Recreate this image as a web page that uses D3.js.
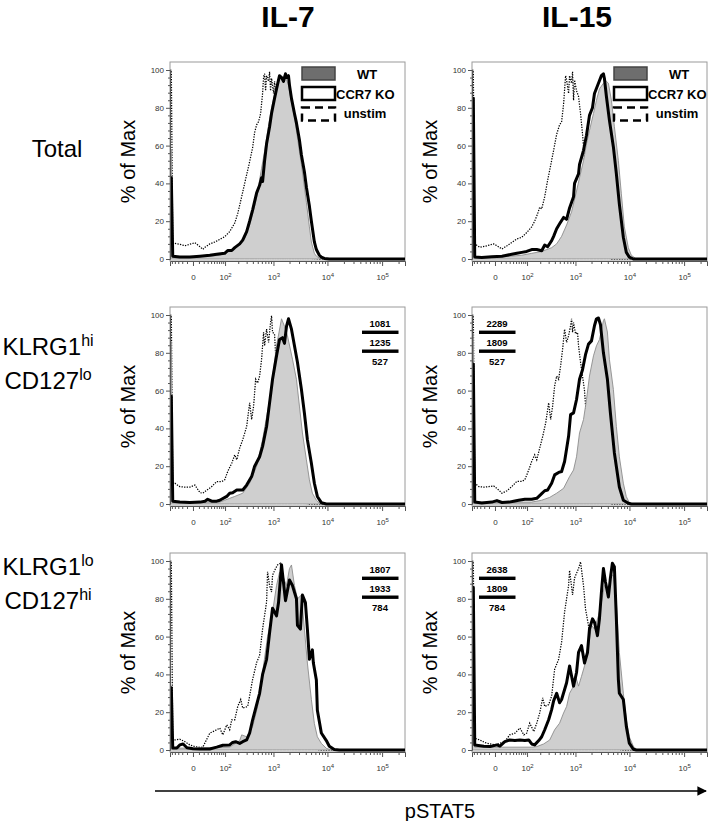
<!DOCTYPE html>
<html><head><meta charset="utf-8">
<script src="https://cdn.jsdelivr.net/npm/d3@7"></script>
<style>
body{margin:0;background:#fff;}
svg{display:block;font-family:Arial,"Liberation Sans",Helvetica,sans-serif;}
</style></head>
<body><svg id="chart" width="711" height="821"></svg>
<script>
// ---------------- DATA ----------------
const columnTitles = ["IL-7", "IL-15"];
const rowLabels = [
  [["Total", ""]],
  [["KLRG1", "hi"], ["CD127", "lo"]],
  [["KLRG1", "lo"], ["CD127", "hi"]]
];
const legendLabels = ["WT", "CCR7 KO", "unstim"];
const yLabel = "% of Max";
const xLabel = "pSTAT5";
const yMajorTicks = [0, 20, 40, 60, 80, 100];
const xMajorTicks = [0, 100, 1000, 10000, 100000];
const xTickExponents = ["", "2", "3", "4", "5"];
const xDomain = [-57, 262144];

// MFI values (WT / CCR7 KO / unstim)
const mfi_IL7_KLRG1hi = ["1081", "1235", "527"];
const mfi_IL15_KLRG1hi = ["2289", "1809", "527"];
const mfi_IL7_KLRG1lo = ["1807", "1933", "784"];
const mfi_IL15_KLRG1lo = ["2638", "1809", "784"];

// histograms: [pSTAT5 intensity, % of Max]
const il7_total_wt = [[-57,58],[-52,58],[-47,1],[-5,1],[36,1.5],[73,2],[98,3],[129,4],[168,5.5],[215,7.5],[273,11],[345,18],[434,28],[496,35],[543,42],[593,48],[678,57],[740,64],[844,74],[920,80],[1048,87],[1143,91],[1301,95],[1417,96],[1612,97],[1756,95],[1912,92],[2173,83],[2469,75],[2688,68],[3052,57],[3322,50],[3772,38],[4104,30],[4659,17],[5069,9],[5752,3],[6258,1.5],[7101,0.5],[8764,0],[262144,0]];
const il7_total_ko = [[-57,43],[-52,43],[-47,1.5],[-26,1],[-5,1],[12,1.5],[36,2],[60,2.5],[98,3],[116,4.5],[144,4.5],[168,6],[215,8],[249,10],[300,14.5],[345,20],[396,26],[475,35],[543,39],[593,43],[620,41],[678,52],[740,61],[844,70],[920,77],[1048,85],[1143,90],[1301,97],[1417,96],[1544,94],[1682,98],[1756,96],[1912,97],[1996,92],[2173,85],[2469,77],[2688,72],[3052,63],[3322,55],[3772,46],[4104,38],[4659,28],[5069,20],[5752,9],[6258,5],[7101,2],[7725,1],[8764,0.3],[10815,0],[262144,0]];
const il7_total_unstim = [[-57,100],[-52,100],[-47,8.3],[-40,8.3],[-26,7.8],[-14,7],[-5,7.8],[3,8.6],[12,6.5],[18,5.1],[23,6.2],[36,8],[53,9],[73,10.4],[98,11.8],[129,14.5],[168,19],[195,24],[215,28.5],[237,33],[273,40],[345,51.5],[396,59],[434,67],[475,71],[519,72.7],[568,77],[620,87.6],[648,96.5],[678,98],[708,89],[740,97],[808,94],[844,99],[881,89],[920,95.6],[1004,87.6],[1048,94],[1143,84],[1301,55],[1480,30],[1756,15],[2173,6],[2688,2],[3772,0.5],[7101,0],[262144,0]];

const il15_total_wt = [[-57,60],[-52,60],[-47,1],[-5,1],[36,1.5],[73,2],[129,3],[215,4],[273,5],[345,6],[434,8],[543,12],[678,18],[844,25],[1048,36],[1193,43],[1417,52],[1612,61],[1832,68],[2173,77],[2469,84],[2804,90],[3322,93],[3772,94],[4104,93],[4659,84],[5287,70],[6258,52],[7101,34.5],[8057,17],[9534,6],[10815,2],[13342,0],[262144,0]];
const il15_total_ko = [[-57,85],[-52,85],[-47,1],[-26,0.8],[-5,1.2],[12,1.5],[36,2.5],[53,3],[73,3.5],[98,4],[129,5],[168,5],[215,4.4],[249,7.4],[286,6.5],[345,9.7],[378,12],[434,16],[496,18.6],[593,22],[678,21],[773,27],[920,33],[961,40],[1143,45],[1193,50],[1417,57.5],[1612,65.5],[1832,76],[2083,80],[2268,87.6],[2688,93],[3052,97],[3322,98],[3466,95.5],[3772,86],[4281,73.5],[5069,59.3],[5752,45],[6527,29],[7725,11.5],[8764,3.5],[9944,1],[11764,0],[262144,0]];
const il15_total_unstim = [[-57,100],[-52,100],[-47,8],[-31,6.2],[-14,7],[-2,8],[3,7],[12,5.3],[23,7],[36,8.8],[53,10.6],[73,11.5],[98,14],[129,17],[151,20],[176,24],[195,27.4],[215,26.5],[249,33],[286,41.6],[330,49.6],[378,57.5],[434,66],[496,71],[543,72.6],[593,82],[648,97],[678,94.7],[740,87.6],[773,97],[844,93],[881,99],[920,84],[961,94.7],[1048,89],[1143,86],[1246,77],[1358,66],[1417,60],[1544,45],[1756,30],[1996,18],[2469,8],[3052,3],[3772,1],[4659,0],[262144,0]];

const il7_hi_wt = [[-57,86],[-52,86],[-47,1],[-5,1],[73,1],[98,2],[129,3],[168,4],[249,5.7],[345,11],[475,20],[620,34],[844,55],[1143,83.7],[1417,98],[1612,94],[1832,89],[2268,76.6],[2688,66],[3052,51.8],[3466,37.6],[4104,23.4],[4659,12.8],[5287,5.7],[6258,2],[7101,0.5],[8764,0],[262144,0]];
const il7_hi_ko = [[-57,57],[-52,57],[-47,1.5],[-26,1],[-5,0.8],[12,1],[23,1.5],[30,2.5],[42,1.5],[60,1.5],[73,2],[110,4],[129,5.7],[151,6],[186,7.4],[249,7.4],[300,10],[378,14.5],[434,20],[543,25],[620,30.5],[740,41],[844,53.5],[961,66],[1143,78.5],[1301,87],[1480,88],[1612,85],[1756,94],[1912,98],[2173,92.5],[2469,83.7],[2804,75],[3322,60.6],[3772,48],[4281,34],[5069,21.6],[5752,11],[6527,4],[7725,0.7],[9534,0],[262144,0]];
const il7_hi_unstim = [[-57,100],[-52,100],[-47,11],[-40,11],[-26,9.2],[-14,8.9],[-5,8.9],[3,10],[12,6],[18,5.7],[28,7.4],[42,9.2],[60,11.9],[83,11.9],[98,12.8],[116,17.2],[144,21.6],[168,26],[186,23.4],[215,29.6],[249,34],[300,41],[345,53.5],[378,44.7],[414,51.8],[454,66],[496,64],[543,67.7],[593,76.6],[648,90.8],[678,83.7],[740,92.5],[808,85.5],[881,96],[920,99.6],[961,90.8],[1048,90],[1095,80],[1193,60],[1358,40],[1612,20],[1996,8],[2469,3],[3052,1],[4659,0],[262144,0]];

const il15_hi_wt = [[-57,90],[-52,90],[-47,1],[-5,1],[129,1],[215,2],[315,3.5],[434,5.7],[593,8.3],[773,14.5],[920,18],[1048,25],[1193,37.6],[1417,44.7],[1612,55.3],[1832,67.7],[2173,78.4],[2469,83.7],[2804,87],[3322,97],[3466,98],[3934,91],[4281,76.6],[5069,60.6],[5752,41],[6527,25],[7725,11],[8764,3.9],[9944,0.7],[11764,0],[262144,0]];
const il15_hi_ko = [[-57,74],[-52,74],[-47,1],[-26,0.5],[-5,1],[3,1.8],[12,0.8],[28,1],[42,1.5],[60,2],[88,2.5],[129,2.5],[168,3],[215,5.5],[249,7],[286,7.4],[345,11],[396,15.4],[475,16.7],[543,17.2],[620,22.5],[740,35.8],[808,47.3],[920,48.2],[1048,55.3],[1193,66],[1358,71],[1544,79],[1756,84.6],[1996,86.3],[2268,94.3],[2469,98],[2688,98.4],[2926,95],[3322,80],[3934,66],[4466,48.2],[5287,27],[6527,9],[7725,2],[9534,0.4],[10815,0],[262144,0]];
const il15_hi_unstim = [[-57,100],[-52,100],[-47,11],[-34,9.2],[-21,8.9],[-10,9.2],[-2,9.6],[6,7.4],[12,5.7],[23,7],[36,9.2],[53,12],[73,12],[88,12.8],[110,18],[129,22.5],[151,26],[168,23.4],[195,29.6],[226,35.8],[261,43],[300,53.5],[330,44.7],[361,51.8],[396,62.4],[434,67.7],[475,66],[519,73],[568,82],[620,92.5],[678,85.5],[740,89],[808,94.3],[844,98],[881,90.8],[920,96],[1004,90],[1095,90.8],[1143,83.7],[1246,75],[1358,67.7],[1480,60],[1612,45],[1832,30],[2173,15],[2688,5],[3322,2],[4659,0],[262144,0]];

const il7_lo_wt = [[-57,20],[-52,20],[-47,1],[-5,1],[129,1.5],[215,5],[237,8],[300,7],[396,12.5],[496,23],[620,41],[773,60],[961,73],[1143,87],[1301,94],[1480,92.5],[1756,87],[1996,96],[2173,97.9],[2469,87],[2804,80],[3322,82],[3772,64],[4281,46],[5069,26.7],[5752,14],[6527,7],[7725,3.5],[9534,0.9],[11764,0],[262144,0]];
const il7_lo_ko = [[-57,33],[-52,33],[-47,1],[-34,1],[-26,2.7],[-18,3.2],[-10,1.2],[0,0.7],[12,0.5],[36,0.5],[60,1.5],[88,2.5],[129,2.7],[151,4],[176,4.4],[215,3.5],[249,4.4],[300,5.3],[345,9],[396,16],[475,24],[543,30],[620,40],[740,48],[844,62],[961,75],[1143,71],[1246,78],[1417,98],[1682,79],[1996,90],[2268,87],[2688,80],[2804,66],[3184,64],[3466,82],[3934,78],[4281,64],[4659,48],[5287,53],[5515,46],[6258,37],[6527,21],[7725,9],[9534,5],[10815,2],[13342,0.3],[16485,0],[262144,0]];
const il7_lo_unstim = [[-57,100],[-52,100],[-47,5.3],[-40,5.3],[-26,5.7],[-14,4.4],[-5,2.7],[3,1.8],[12,1.4],[18,1.5],[36,8.9],[60,10.7],[73,11.6],[88,8],[110,13.3],[129,10.7],[144,16],[168,16],[195,23],[226,26.7],[249,22.2],[315,23],[396,37.4],[475,46.3],[543,50],[620,64],[740,78.3],[773,94.3],[844,87],[920,83.6],[961,92.5],[1095,96],[1193,97.9],[1358,98.8],[1480,85],[1682,70],[1996,50],[2469,28],[3052,12],[3772,5],[4659,2],[5752,0.5],[7101,0],[262144,0]];

const il15_lo_wt = [[-57,50],[-52,50],[-47,1.5],[-5,1.5],[129,1.5],[168,1.8],[237,3.2],[315,5.3],[396,10.7],[496,14.2],[593,19.6],[678,23],[773,30],[920,33.8],[1004,39],[1143,33.8],[1301,39],[1480,44.5],[1756,55],[1996,66],[2268,64],[2688,71],[3052,78],[3466,87],[4104,85],[4659,92.5],[5069,92.5],[5752,78],[6527,51.6],[7725,30],[8764,16],[9944,7],[11764,2],[13915,0],[262144,0]];
const il15_lo_ko = [[-57,86],[-52,86],[-47,2.7],[-21,2],[-8,1.8],[3,2.7],[8,2.1],[18,4.4],[30,5.3],[46,5],[65,5.3],[88,5],[110,5.3],[129,3.2],[151,2.7],[186,5],[215,7],[249,10.7],[300,16],[345,21.4],[378,26],[434,30],[496,25],[543,26.7],[620,32],[678,35.6],[773,44.5],[808,41.8],[920,33.8],[1048,41],[1143,51.6],[1301,55.2],[1480,46],[1682,51.6],[1832,64],[2083,69.4],[2268,67.6],[2576,60.5],[2804,69.4],[3052,83.6],[3322,96],[3616,89],[4104,81],[4466,91],[4859,98.8],[5287,97],[5752,69.4],[6258,37.4],[6527,30],[7725,26.7],[8764,12.5],[9944,3.6],[11764,0.4],[13342,0],[262144,0]];
const il15_lo_unstim = [[-57,100],[-52,100],[-47,6.2],[-31,5.3],[-18,3.9],[-8,3.2],[0,2.7],[8,3.6],[18,4.4],[30,8],[46,8.9],[65,11.6],[83,8],[98,8.9],[116,14.2],[144,9.8],[168,14.2],[195,19.6],[226,27.6],[249,23],[300,24],[345,28.5],[396,42.7],[475,48],[543,57],[620,73],[740,87],[773,95],[881,82],[961,91],[1143,96],[1246,99.6],[1417,87],[1544,74.7],[1756,65.8],[1912,60.5],[2173,45],[2576,30],[3052,18],[3772,8],[4659,3],[5752,1],[7101,0],[262144,0]];

// ---------------- LAYOUT ----------------
const colLeft = [170, 472];
const panelW = 235;
const rowTop = [62, 307, 553];
const panelH = 199;
const legendOffset = [132, 142];

const panels = [
  {r:0,c:0,wt:il7_total_wt,ko:il7_total_ko,un:il7_total_unstim,mfi:null},
  {r:0,c:1,wt:il15_total_wt,ko:il15_total_ko,un:il15_total_unstim,mfi:null},
  {r:1,c:0,wt:il7_hi_wt,ko:il7_hi_ko,un:il7_hi_unstim,mfi:mfi_IL7_KLRG1hi},
  {r:1,c:1,wt:il15_hi_wt,ko:il15_hi_ko,un:il15_hi_unstim,mfi:mfi_IL15_KLRG1hi},
  {r:2,c:0,wt:il7_lo_wt,ko:il7_lo_ko,un:il7_lo_unstim,mfi:mfi_IL7_KLRG1lo},
  {r:2,c:1,wt:il15_lo_wt,ko:il15_lo_ko,un:il15_lo_unstim,mfi:mfi_IL15_KLRG1lo}
];

const svg = d3.select("#chart");
const defs = svg.append("defs");

// column titles
const titleX = [288, 577];
columnTitles.forEach((t,i)=>{
  svg.append("text").attr("x", titleX[i]).attr("y", 27)
    .attr("text-anchor","middle").attr("font-size","30px").attr("font-weight","bold")
    .attr("fill","#000").text(t);
});

// row labels
const rowLabelBase = [[157], [355, 389], [575, 609]];
rowLabels.forEach((lines, r)=>{
  lines.forEach((ln, k)=>{
    const t = svg.append("text").attr("x", r===0 ? 57 : 48).attr("y", rowLabelBase[r][k])
      .attr("text-anchor","middle").attr("font-size","24px").attr("fill","#000");
    t.append("tspan").text(ln[0]);
    if (ln[1]) t.append("tspan").attr("dy","-9").attr("font-size","16px").text(ln[1]);
  });
});

// minor ticks
const xMinorTicks = [];
[-50,-40,-30,-20,-10].forEach(v=>xMinorTicks.push(v));
for (let k=1;k<=9;k++) xMinorTicks.push(k*10);
[100,1000,10000].forEach(dec=>{ for (let k=2;k<=9;k++) xMinorTicks.push(k*dec); });
xMinorTicks.push(200000);
const yMinorTicks = d3.range(0, 101, 4).filter(v=>v%20!==0);

panels.forEach((p, idx)=>{
  const L = colLeft[p.c], T = rowTop[p.r];
  const x = d3.scaleSymlog().constant(35).domain(xDomain).range([L, L+panelW]);
  const y = d3.scaleLinear().domain([0,100]).range([T+197, T+8]);
  const g = svg.append("g");

  const cid = "clip"+idx;
  defs.append("clipPath").attr("id",cid).append("rect")
    .attr("x",L+0.5).attr("y",T).attr("width",panelW).attr("height",panelH);

  // frame
  g.append("rect").attr("x",L).attr("y",T).attr("width",panelW).attr("height",panelH)
    .attr("fill","#fff").attr("stroke","#9a9a9a").attr("stroke-width",1);

  const plot = g.append("g").attr("clip-path",`url(#${cid})`);
  const line = d3.line().x(d=>x(d[0])).y(d=>y(d[1]));
  const area = d3.area().x(d=>x(d[0])).y0(y(0)).y1(d=>y(d[1]));

  plot.append("path").datum(p.un).attr("d",line).attr("fill","none")
    .attr("stroke","#000").attr("stroke-width",1.25).attr("stroke-dasharray","1.3,1.3");
  plot.append("path").datum(p.wt).attr("d",area).attr("fill","#cfcfcf")
    .attr("stroke","#8c8c8c").attr("stroke-width",0.9);
  plot.append("path").datum(p.ko).attr("d",line).attr("fill","none")
    .attr("stroke","#000").attr("stroke-width",3).attr("stroke-linejoin","round");

  // axes
  const axY = g.append("g").attr("transform",`translate(${L},0)`)
    .call(d3.axisLeft(y).tickValues(yMajorTicks).tickSize(4).tickPadding(2));
  g.append("g").attr("transform",`translate(${L},0)`)
    .call(d3.axisLeft(y).tickValues(yMinorTicks).tickSize(2).tickFormat(""))
    .call(s=>s.select(".domain").remove());
  axY.selectAll("text").attr("font-size","8px").attr("fill","#333").attr("font-family","Arial,'Liberation Sans',sans-serif");

  const axX = g.append("g").attr("transform",`translate(0,${T+panelH})`)
    .call(d3.axisBottom(x).tickValues(xMajorTicks).tickSize(5).tickPadding(8));
  g.append("g").attr("transform",`translate(0,${T+panelH})`)
    .call(d3.axisBottom(x).tickValues(xMinorTicks).tickSize(3).tickFormat(""))
    .call(s=>s.select(".domain").remove());
  axX.selectAll("text").each(function(d,i){
    const t = d3.select(this).text("").attr("font-size","8px").attr("fill","#333")
      .attr("font-family","Arial,'Liberation Sans',sans-serif");
    if (d === 0) { t.text("0"); }
    else { t.append("tspan").text("10"); t.append("tspan").attr("dy","-3").attr("font-size","6px").text(xTickExponents[i]); }
  });
  g.selectAll(".domain").attr("stroke","#555");
  g.selectAll(".tick line").attr("stroke","#555");

  // y label
  svg.append("text").attr("transform",`translate(${L-35},${T+panelH/2}) rotate(-90)`)
    .attr("text-anchor","middle").attr("font-size","20px").attr("fill","#000").text(yLabel);

  // legend (top row)
  if (p.r === 0) {
    const lx = L + legendOffset[p.c];
    const lg = g.append("g");
    lg.append("rect").attr("x",lx).attr("y",T+5).attr("width",33).attr("height",13)
      .attr("fill","#6e6e6e").attr("stroke","#444").attr("stroke-width",1.5);
    lg.append("rect").attr("x",lx).attr("y",T+25).attr("width",33).attr("height",13)
      .attr("fill","#fff").attr("stroke","#000").attr("stroke-width",2.5);
    lg.append("rect").attr("x",lx).attr("y",T+45.5).attr("width",33).attr("height",13)
      .attr("fill","none").attr("stroke","#000").attr("stroke-width",2.5).attr("stroke-dasharray","8,5");
    lg.append("text").attr("x",lx+65).attr("y",T+17).attr("text-anchor","middle")
      .attr("font-size","13px").attr("font-weight","bold").text(legendLabels[0]);
    lg.append("text").attr("x",lx+34).attr("y",T+36.5).attr("text-anchor","start")
      .attr("font-size","13px").attr("font-weight","bold").text(legendLabels[1]);
    lg.append("text").attr("x",lx+63).attr("y",T+56).attr("text-anchor","middle")
      .attr("font-size","13px").attr("font-weight","bold").text(legendLabels[2]);
  }

  // MFI box
  if (p.mfi) {
    const bx = p.c === 0 ? L + 192 : L + 7;
    const mg = g.append("g");
    const tY = [19.7, 38.7, 57.8];
    p.mfi.forEach((v,k)=>{
      mg.append("text").attr("x",bx+18).attr("y",T+tY[k]).attr("text-anchor","middle")
        .attr("font-size","9.5px").attr("font-weight","bold").text(v);
    });
    [25.3, 44.2].forEach(by=>{
      mg.append("rect").attr("x",bx).attr("y",T+by-1.7).attr("width",36.5).attr("height",3.4).attr("fill","#000");
    });
  }
});

// bottom arrow + label
defs.append("marker").attr("id","arrow").attr("viewBox","0 0 10 10").attr("refX",9).attr("refY",5)
  .attr("markerWidth",6).attr("markerHeight",6).attr("orient","auto")
  .append("path").attr("d","M0,0 L10,5 L0,10 Z").attr("fill","#000");
svg.append("line").attr("x1",155).attr("x2",706).attr("y1",791).attr("y2",791)
  .attr("stroke","#000").attr("stroke-width",1.6).attr("marker-end","url(#arrow)");
svg.append("text").attr("x",440).attr("y",818).attr("text-anchor","middle")
  .attr("font-size","20px").attr("fill","#000").text(xLabel);
</script>
</body></html>
